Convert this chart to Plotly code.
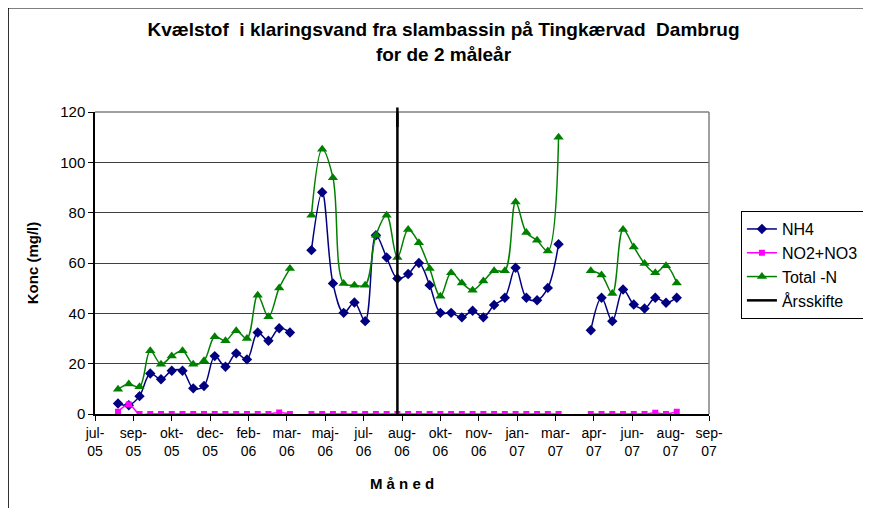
import plotly.graph_objects as go

# sampling dates (biweekly); empty entries are missing samples
dates = [
    "2005-08-16", "2005-08-30", "2005-09-13", "2005-09-27", "2005-10-11", "2005-10-25",
    "2005-11-08", "2005-11-22", "2005-12-06", "2005-12-20", "2006-01-03", "2006-01-17",
    "2006-01-31", "2006-02-14", "2006-02-28", "2006-03-14", "2006-03-28", "2006-04-11",
    "2006-04-25", "2006-05-09", "2006-05-23", "2006-06-06", "2006-06-20", "2006-07-04",
    "2006-07-18", "2006-08-01", "2006-08-15", "2006-08-29", "2006-09-12", "2006-09-26",
    "2006-10-10", "2006-10-24", "2006-11-07", "2006-11-21", "2006-12-05", "2006-12-19",
    "2007-01-02", "2007-01-16", "2007-01-30", "2007-02-13", "2007-02-27", "2007-03-13",
    "2007-03-27", "2007-04-10", "2007-04-24", "2007-05-08", "2007-05-22", "2007-06-05",
    "2007-06-19", "2007-07-03", "2007-07-17", "2007-07-31", "2007-08-14",
]

nh4 = [
    4.2, 3.5, 7.1, 16.1, 13.8, 17.2, 17.2, 10.2, 11.1, 23.0, 18.8, 24.1,
    21.7, 32.4, 29.1, 34.1, 32.4, None,
    65.1, 88.1, 51.9, 40.2, 44.3, 36.9, 71.0, 62.2, 53.8, 55.6, 60.0, 51.2,
    40.2, 40.2, 38.4, 41.0, 38.4, 43.3, 46.2, 58.1, 46.2, 45.2, 50.1, 67.5,
    None, None,
    33.3, 46.2, 36.9, 49.5, 43.5, 41.9, 46.2, 44.2, 46.2,
]

no2_no3 = [
    0.9, 3.8, 0, 0, 0, 0, 0, 0, 0, 0, 0, 0,
    0, 0, 0, 0.6, 0, None,
    0, 0, 0, 0, 0, 0, 0, 0, 0, 0, 0, 0,
    0, 0, 0, 0, 0, 0, 0, 0, 0, 0, 0, 0,
    None, None,
    0, 0, 0, 0, 0, 0, 0.5, 0, 0.9,
]

total_n = [
    9.8, 11.9, 10.8, 25.1, 19.8, 23.0, 25.1, 19.8, 21.2, 30.7, 29.1, 33.1,
    30.0, 47.2, 38.6, 50.1, 57.8, None,
    79.0, 105.2, 93.9, 51.9, 51.2, 51.2, 71.0, 79.0, 62.2, 73.3, 68.0, 57.8,
    46.8, 56.1, 52.1, 49.2, 52.8, 56.9, 56.9, 84.2, 72.1, 69.0, 64.8, 110.0,
    None, None,
    56.9, 55.2, 47.9, 73.3, 66.4, 59.8, 56.1, 58.9, 52.1,
]

year_change = "2006-08-15"

# Excel-style date axis: a tick every 50 days
tick_dates = [
    "2005-07-17", "2005-09-05", "2005-10-25", "2005-12-14", "2006-02-02", "2006-03-24",
    "2006-05-13", "2006-07-02", "2006-08-21", "2006-10-10", "2006-11-29", "2007-01-18",
    "2007-03-09", "2007-04-28", "2007-06-17", "2007-08-06", "2007-09-25",
]
tick_labels = [
    "jul-<br>05", "sep-<br>05", "okt-<br>05", "dec-<br>05", "feb-<br>06", "mar-<br>06",
    "maj-<br>06", "jul-<br>06", "aug-<br>06", "okt-<br>06", "nov-<br>06", "jan-<br>07",
    "mar-<br>07", "apr-<br>07", "jun-<br>07", "aug-<br>07", "sep-<br>07",
]

FONT = "Arial, 'Liberation Sans', sans-serif"

fig = go.Figure()
fig.add_trace(go.Scatter(
    x=dates, y=nh4, name="NH4", mode="lines+markers", legendgroup="a",
    line=dict(color="#000080", width=1.5, shape="spline", smoothing=1),
    marker=dict(symbol="diamond", size=8, color="#000080"),
))
fig.add_trace(go.Scatter(
    x=dates, y=no2_no3, name="NO2+NO3", mode="lines+markers", legendgroup="b",
    line=dict(color="#FF00FF", width=1.5, shape="spline", smoothing=1),
    marker=dict(symbol="square", size=6, color="#FF00FF"),
))
fig.add_trace(go.Scatter(
    x=dates, y=total_n, name="Total -N", mode="lines+markers", legendgroup="c",
    line=dict(color="#008000", width=1.5, shape="spline", smoothing=1),
    marker=dict(symbol="triangle-up", size=9, color="#008000"),
))
fig.add_trace(go.Scatter(
    x=[year_change, year_change], y=[0, 120], name="Årsskifte", mode="lines",
    legendgroup="d", line=dict(color="black", width=2.5),
))

# the page body has an 8px margin, so the figure is offset by 8px in the window
fig.update_layout(
    width=871, height=508,
    margin=dict(l=87, r=170, t=104, b=102),
    paper_bgcolor="white", plot_bgcolor="white",
    font=dict(family=FONT, size=14, color="black"),
    title=dict(
        text="<b>Kvælstof  i klaringsvand fra slambassin på Tingkærvad  Dambrug<br>for de 2 måleår</b>",
        x=0.5, xanchor="center", y=0.945, yanchor="top",
        font=dict(family="'Liberation Sans Narrow', 'Arial Narrow', Arial, sans-serif", size=19),
    ),
    showlegend=True,
    legend=dict(
        x=1.052, xanchor="left", y=0.672, yanchor="top",
        bordercolor="black", borderwidth=1, bgcolor="white",
        font=dict(size=16), tracegroupgap=0, traceorder="grouped",
    ),
    shapes=[
        # outer chart border (only top and left are visible in the frame)
        dict(type="line", xref="paper", yref="paper", x0=-0.142, x1=1.3, y0=1.346, y1=1.346,
             line=dict(color="black", width=2)),
        dict(type="line", xref="paper", yref="paper", x0=-0.142, x1=-0.142, y0=1.346, y1=-0.4,
             line=dict(color="black", width=2)),
        # grey plot-area border top/right
        dict(type="line", xref="paper", yref="paper", x0=0, x1=1, y0=1, y1=1,
             line=dict(color="#808080", width=1.5)),
        dict(type="line", xref="paper", yref="paper", x0=1, x1=1, y0=0, y1=1,
             line=dict(color="#808080", width=1.5)),
        # year-change line pokes slightly above the plot area
        dict(type="line", xref="x", yref="paper", x0=year_change, x1=year_change, y0=0.95, y1=1.015,
             line=dict(color="black", width=2.5)),
    ],
)

fig.update_xaxes(
    type="date", range=[tick_dates[0], tick_dates[-1]],
    tickmode="array", tickvals=tick_dates, ticktext=tick_labels,
    ticks="outside", ticklen=5, tickcolor="black", tickfont=dict(size=14),
    showline=True, linecolor="black", linewidth=1.5, showgrid=False, zeroline=False,
    title=dict(text="<b>M å n e d</b>", font=dict(size=15), standoff=21),
)
fig.update_yaxes(
    range=[0, 120], tickvals=[0, 20, 40, 60, 80, 100, 120],
    ticks="outside", ticklen=5, tickcolor="black", tickfont=dict(size=15),
    showline=True, linecolor="black", linewidth=1.5,
    showgrid=True, gridcolor="#404040", gridwidth=1, zeroline=False,
    title=dict(text="<b>Konc (mg/l)</b>", font=dict(size=15), standoff=18),
)

fig.write_html("out.html")
